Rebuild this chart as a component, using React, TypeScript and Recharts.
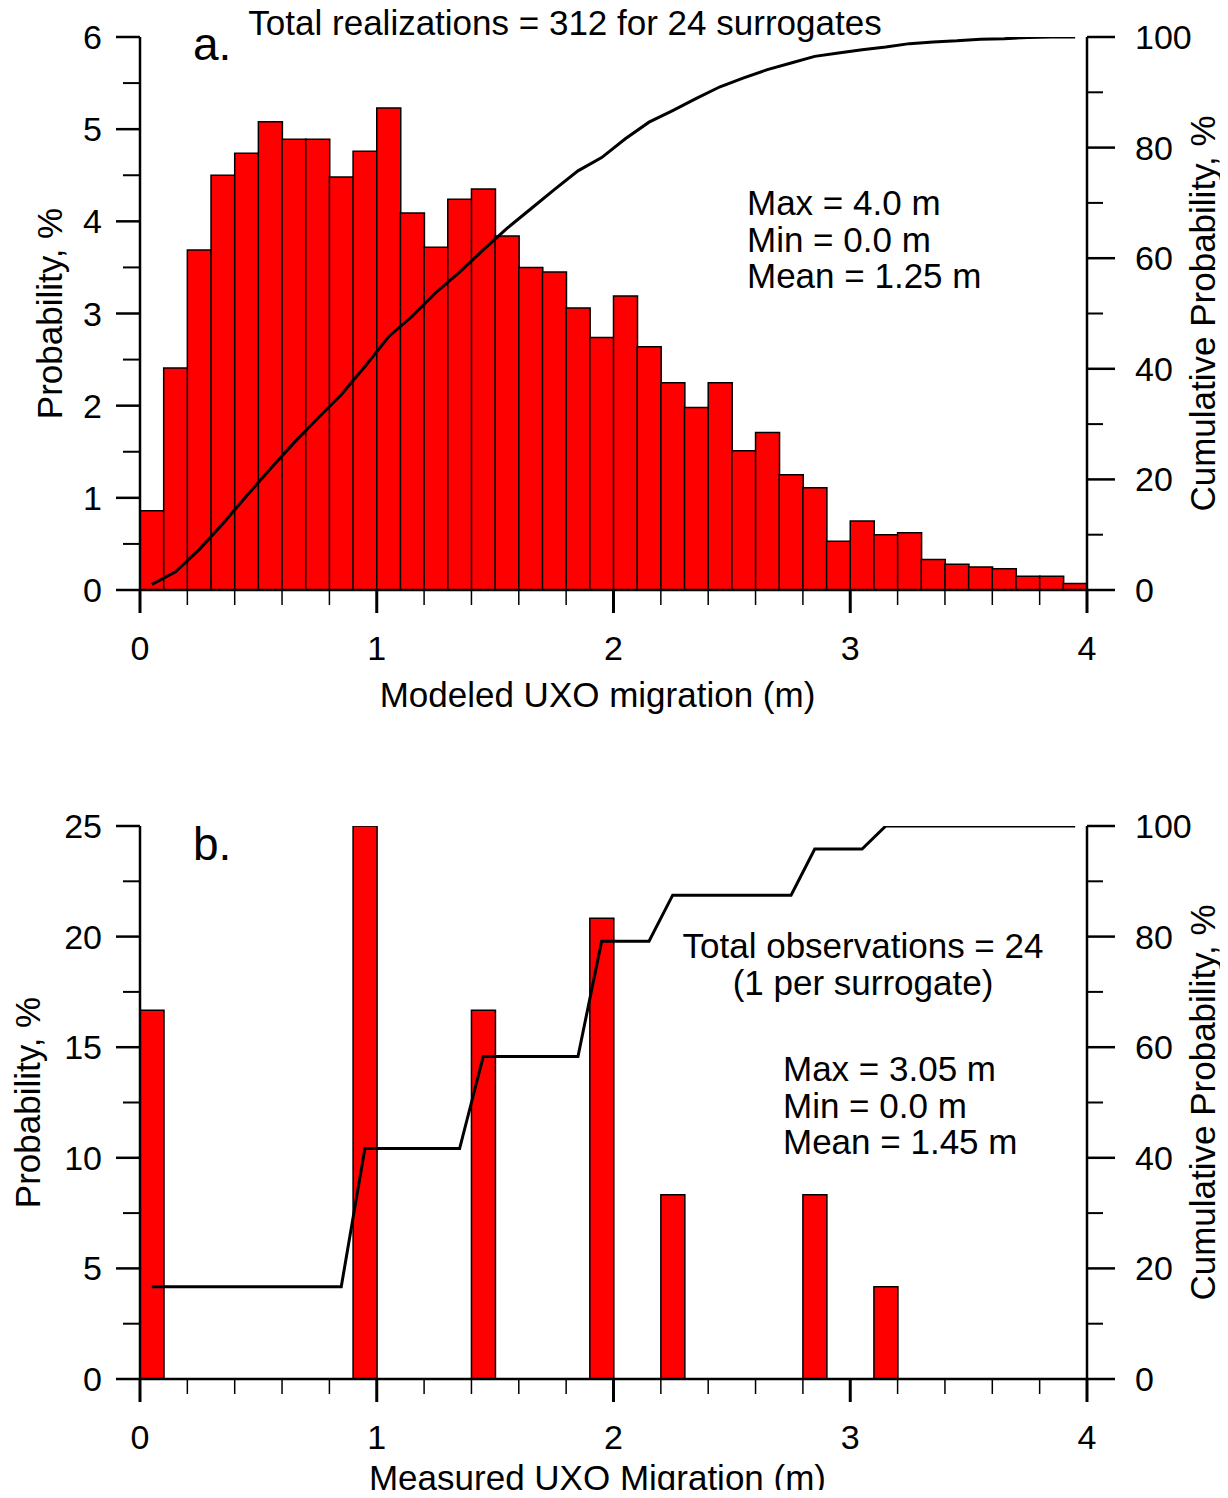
import React from 'react';
import { ComposedChart, Bar, Line, XAxis, YAxis } from 'recharts';

const FONT = '"Liberation Sans", Arial, Helvetica, sans-serif';

// 0.1 m bins, centres in metres
const binCenters = [
  0.05, 0.15, 0.25, 0.35, 0.45, 0.55, 0.65, 0.75, 0.85, 0.95,
  1.05, 1.15, 1.25, 1.35, 1.45, 1.55, 1.65, 1.75, 1.85, 1.95,
  2.05, 2.15, 2.25, 2.35, 2.45, 2.55, 2.65, 2.75, 2.85, 2.95,
  3.05, 3.15, 3.25, 3.35, 3.45, 3.55, 3.65, 3.75, 3.85, 3.95,
];

// panel a: modeled migration
const modeledProb = [
  0.86, 2.41, 3.69, 4.5, 4.74, 5.08, 4.89, 4.89, 4.48, 4.76,
  5.23, 4.09, 3.72, 4.24, 4.35, 3.84, 3.5, 3.45, 3.06, 2.74,
  3.19, 2.64, 2.25, 1.98, 2.25, 1.51, 1.71, 1.25, 1.11, 0.53,
  0.75, 0.6, 0.62, 0.33, 0.28, 0.25, 0.23, 0.15, 0.15, 0.07,
];
const modeledCum = [
  1.0, 3.3, 7.3, 12.0, 17.0, 21.9, 26.6, 31.0, 35.3, 40.4,
  45.8, 49.5, 53.8, 57.5, 61.5, 65.4, 68.9, 72.4, 75.8, 78.2,
  81.6, 84.6, 86.7, 88.9, 91.0, 92.6, 94.1, 95.3, 96.5, 97.1,
  97.7, 98.2, 98.8, 99.1, 99.3, 99.6, 99.7, 99.9, 100, 100,
];

// panel b: measured migration
const measuredProb = [
  16.67, 0, 0, 0, 0, 0, 0, 0, 0, 25,
  0, 0, 0, 0, 16.67, 0, 0, 0, 0, 20.83,
  0, 0, 8.33, 0, 0, 0, 0, 0, 8.33, 0,
  0, 4.17, 0, 0, 0, 0, 0, 0, 0, 0,
];
const measuredCum = [
  16.67, 16.67, 16.67, 16.67, 16.67, 16.67, 16.67, 16.67, 16.67, 41.67,
  41.67, 41.67, 41.67, 41.67, 58.33, 58.33, 58.33, 58.33, 58.33, 79.17,
  79.17, 79.17, 87.5, 87.5, 87.5, 87.5, 87.5, 87.5, 95.83, 95.83,
  95.83, 100, 100, 100, 100, 100, 100, 100, 100, 100,
];

const xTicks = [0, 0.2, 0.4, 0.6, 0.8, 1, 1.2, 1.4, 1.6, 1.8, 2, 2.2, 2.4, 2.6, 2.8, 3, 3.2, 3.4, 3.6, 3.8, 4];
const probTicksA = [0, 0.5, 1, 1.5, 2, 2.5, 3, 3.5, 4, 4.5, 5, 5.5, 6];
const probTicksB = [0, 2.5, 5, 7.5, 10, 12.5, 15, 17.5, 20, 22.5, 25];
const cumTicks = [0, 10, 20, 30, 40, 50, 60, 70, 80, 90, 100];

const modeledData = binCenters.map((x, i) => ({ x, prob: modeledProb[i], cum: modeledCum[i] }));
const measuredData = binCenters.map((x, i) => ({ x, prob: measuredProb[i], cum: measuredCum[i] }));

const isMajor = (v: number, step: number) => Math.abs(v / step - Math.round(v / step)) < 1e-6;

const tickText = { fontSize: 34, fontFamily: FONT, fill: '#000' };

const makeXTick = (step: number) => (props: any) => {
  const { x, y, payload } = props;
  const major = isMajor(payload.value, step);
  return (
    <g>
      <line x1={x} y1={y} x2={x} y2={y + (major ? 23 : 15)} stroke="#000" strokeWidth={major ? 3 : 1.5} />
      {major && (
        <text x={x} y={y + 58} textAnchor="middle" dominantBaseline="central" {...tickText}>
          {payload.value}
        </text>
      )}
    </g>
  );
};

const makeLeftTick = (step: number) => (props: any) => {
  const { x, y, payload } = props;
  const major = isMajor(payload.value, step);
  return (
    <g>
      <line x1={x} y1={y} x2={x - (major ? 24 : 17)} y2={y} stroke="#000" strokeWidth={major ? 2.5 : 2} />
      {major && (
        <text x={x - 38} y={y} textAnchor="end" dominantBaseline="central" {...tickText}>
          {payload.value}
        </text>
      )}
    </g>
  );
};

const makeRightTick = (step: number) => (props: any) => {
  const { x, y, payload } = props;
  const major = isMajor(payload.value, step);
  return (
    <g>
      <line x1={x} y1={y} x2={x + (major ? 28 : 16)} y2={y} stroke="#000" strokeWidth={major ? 2.5 : 2} />
      {major && (
        <text x={x + 48} y={y} textAnchor="start" dominantBaseline="central" {...tickText}>
          {payload.value}
        </text>
      )}
    </g>
  );
};

const axisLine = { stroke: '#000', strokeWidth: 2.5 };
const titleStyle = { fontSize: 35, fill: '#000', fontFamily: FONT };

// x-axis title, drawn a fixed distance below the axis line (slightly left of centre, as in the figure)
const xTitle = (text: string, below: number) => (props: any) => {
  const vb = props.viewBox || {};
  return (
    <text
      x={vb.x + vb.width / 2 - 16}
      y={vb.y + below}
      textAnchor="middle"
      dominantBaseline="central"
      {...titleStyle}
    >
      {text}
    </text>
  );
};

const note = (left: number, top: number, text: string, opts: any = {}) => (
  <div
    style={{
      position: 'absolute',
      left,
      top,
      fontFamily: FONT,
      fontSize: opts.size || 35,
      lineHeight: 1,
      whiteSpace: 'nowrap',
      color: '#000',
      transform: opts.center ? 'translate(-50%, -50%)' : 'translate(0, -50%)',
    }}
  >
    {text}
  </div>
);

const Panel = ({
  data, height, top, title, titleBelow, probTicks, probMax, probStep, leftTitleOffset,
}: any) => (
  <ComposedChart
    width={1220}
    height={height}
    data={data}
    margin={{ top, right: 0, bottom: 0, left: 0 }}
    barCategoryGap={0}
    barGap={0}
  >
    <XAxis
      dataKey="x"
      type="number"
      domain={[0, 4]}
      allowDataOverflow
      ticks={xTicks}
      interval={0}
      tick={makeXTick(1)}
      tickLine={false}
      tickSize={0}
      tickMargin={0}
      axisLine={axisLine}
      height={height - top - 553}
      label={xTitle(title, titleBelow)}
    />
    <YAxis
      yAxisId="left"
      domain={[0, probMax]}
      allowDataOverflow
      ticks={probTicks}
      interval={0}
      tick={makeLeftTick(probStep)}
      tickLine={false}
      tickSize={0}
      tickMargin={0}
      axisLine={axisLine}
      width={132}
      label={{ value: 'Probability, %', angle: -90, position: 'insideLeft', offset: leftTitleOffset, textAnchor: 'middle', ...titleStyle }}
    />
    <YAxis
      yAxisId="right"
      orientation="right"
      domain={[0, 100]}
      allowDataOverflow
      ticks={cumTicks}
      interval={0}
      tick={makeRightTick(20)}
      tickLine={false}
      tickSize={0}
      tickMargin={0}
      axisLine={axisLine}
      width={141}
      label={{ value: 'Cumulative Probability, %', angle: -90, position: 'insideRight', offset: 25, textAnchor: 'middle', ...titleStyle }}
    />
    <Bar yAxisId="left" dataKey="prob" fill="#ff0000" stroke="#000" strokeWidth={1.5} isAnimationActive={false} />
    <Line
      yAxisId="right"
      dataKey="cum"
      type="linear"
      stroke="#000"
      strokeWidth={3}
      dot={false}
      activeDot={false}
      isAnimationActive={false}
    />
  </ComposedChart>
);

export default function App() {
  // negative margins cancel the body's top/bottom margin so the figure can use the full page height
  return (
    <div style={{ background: '#fff', marginTop: -8, marginBottom: -8 }}>
      <div style={{ position: 'relative', width: 1220, height: 728 }}>
        <Panel
          data={modeledData}
          height={728}
          top={37}
          title="Modeled UXO migration (m)"
          titleBelow={104}
          probTicks={probTicksA}
          probMax={6}
          probStep={1}
          leftTitleOffset={42}
        />
        {note(557, 22, 'Total realizations = 312 for 24 surrogates', { center: true })}
        {note(185, 44, 'a.', { size: 46 })}
        {note(739, 202, 'Max = 4.0 m')}
        {note(739, 239, 'Min = 0.0 m')}
        {note(739, 275, 'Mean = 1.25 m')}
      </div>
      <div style={{ position: 'relative', width: 1220, height: 770 }}>
        <Panel
          data={measuredData}
          height={770}
          top={98}
          title="Measured UXO Migration (m)"
          titleBelow={98}
          probTicks={probTicksB}
          probMax={25}
          probStep={5}
          leftTitleOffset={20}
        />
        {note(185, 116, 'b.', { size: 46 })}
        {note(855, 217, 'Total observations = 24', { center: true })}
        {note(855, 254, '(1 per surrogate)', { center: true })}
        {note(775, 340, 'Max = 3.05 m')}
        {note(775, 377, 'Min = 0.0 m')}
        {note(775, 413, 'Mean = 1.45 m')}
      </div>
    </div>
  );
}
